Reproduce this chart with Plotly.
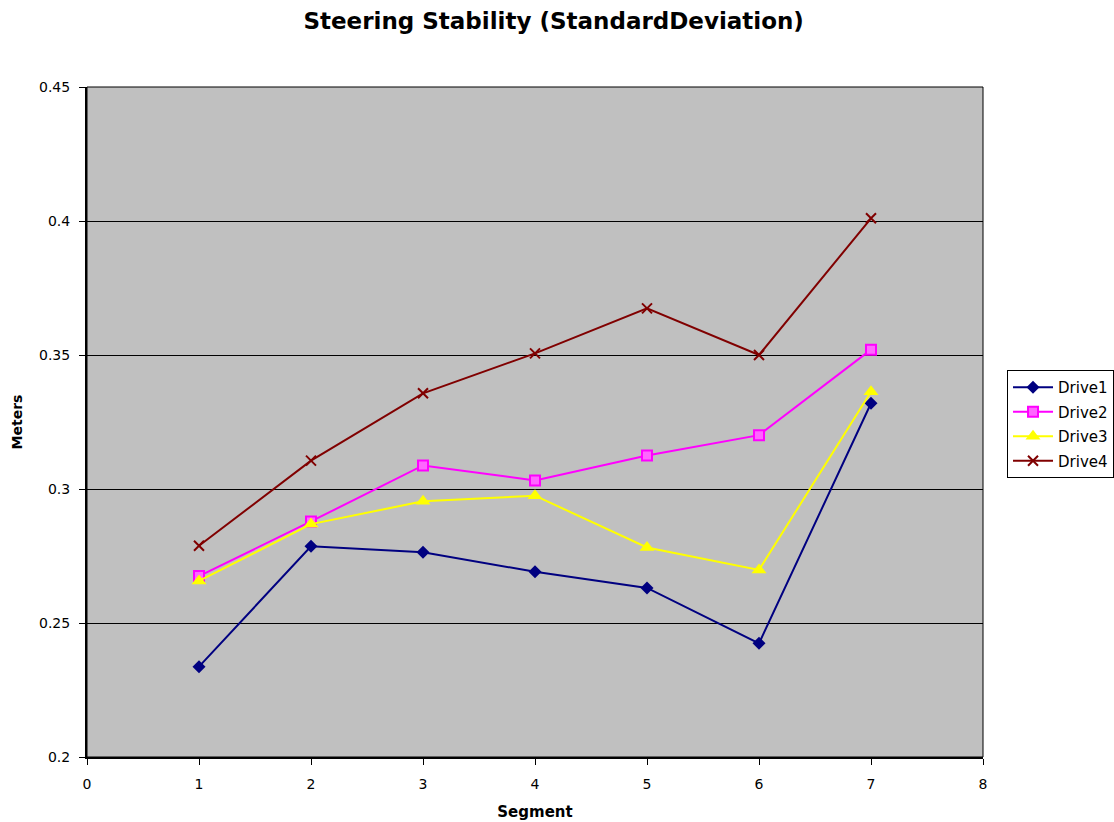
import plotly.graph_objects as go

segments = [1, 2, 3, 4, 5, 6, 7]
drive1 = [0.2337, 0.2786, 0.2764, 0.2691, 0.2631, 0.2424, 0.3320]
drive2 = [0.2675, 0.2879, 0.3088, 0.3032, 0.3125, 0.3201, 0.3520]
drive3 = [0.2657, 0.2869, 0.2954, 0.2975, 0.2782, 0.2698, 0.3363]
drive4 = [0.2788, 0.3106, 0.3357, 0.3506, 0.3674, 0.3500, 0.4010]

series = [
    ("Drive1", drive1, "#000080", "diamond", 10),
    ("Drive2", drive2, "#FF00FF", "square", 10),
    ("Drive3", drive3, "#FFFF00", "triangle-up", 13),
    ("Drive4", drive4, "#800000", "x-thin-open", 10),
]

FONT = "DejaVu Sans, Verdana, sans-serif"

fig = go.Figure()
for name, vals, color, symbol, size in series:
    marker = dict(symbol=symbol, size=size, color=color)
    if symbol == "x-thin-open":
        marker["line"] = dict(color=color, width=2)
    elif symbol == "square":
        marker["color"] = "#FF66FF"
        marker["line"] = dict(color=color, width=2)
    fig.add_trace(go.Scatter(
        x=segments, y=vals, name=name, mode="lines+markers",
        line=dict(color=color, width=2), marker=marker,
        legendgroup=name,
    ))

axis_font = dict(family=FONT, size=14, color="black")

fig.update_layout(
    width=1114, height=822,
    margin=dict(l=87, r=131, t=87, b=65, autoexpand=False),
    paper_bgcolor="white",
    plot_bgcolor="#C0C0C0",
    title=dict(
        text="<b>Steering Stability (StandardDeviation)</b>",
        x=0.497, xanchor="center", y=0.975, yanchor="middle",
        font=dict(family=FONT, size=23, color="black"),
    ),
    legend=dict(
        x=1.0268, xanchor="left", y=0.497, yanchor="middle",
        bordercolor="black", borderwidth=1, bgcolor="white",
        font=dict(family=FONT, size=15, color="black"),
        tracegroupgap=2, itemwidth=40,
    ),
    showlegend=True,
)

fig.update_xaxes(
    range=[0, 8], dtick=1, tick0=0, automargin=False,
    showgrid=False, zeroline=False,
    showline=True, linecolor="black", linewidth=2,
    ticks="outside", ticklen=6, tickcolor="black",
    tickfont=axis_font, ticklabelstandoff=7,
    title=dict(text="<b>Segment</b>", font=dict(family=FONT, size=15, color="black"), standoff=16),
)
fig.update_yaxes(
    range=[0.2, 0.45], dtick=0.05, tick0=0.2, automargin=False,
    showgrid=True, gridcolor="black", gridwidth=1, zeroline=False,
    showline=True, linecolor="black", linewidth=2,
    ticks="outside", ticklen=6, tickcolor="black",
    tickfont=axis_font, ticklabelstandoff=6,
    title=dict(text="<b>Meters</b>", font=dict(family=FONT, size=14, color="black"), standoff=13),
)

# Thin border around the plotting area
fig.add_shape(type="rect", xref="paper", yref="paper", x0=0, y0=0, x1=1, y1=1,
              line=dict(color="black", width=1), layer="above")

fig.write_html("out.html")
